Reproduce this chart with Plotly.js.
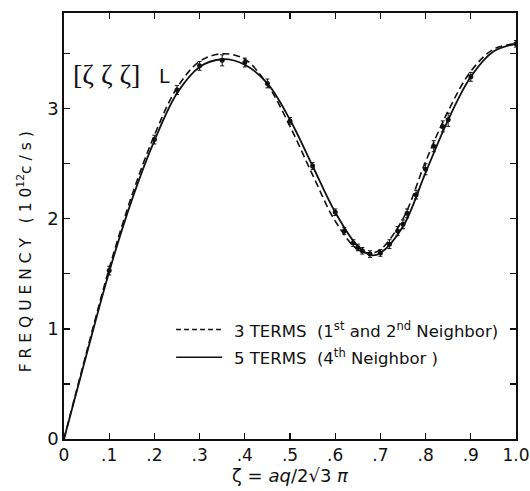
<!DOCTYPE html>
<html>
<head>
<meta charset="utf-8">
<script src="https://cdn.plot.ly/plotly-3.0.1.min.js"></script>
<style>html,body{margin:0;padding:0;background:#fff;}#plot{width:530px;height:491px;}</style>
</head>
<body>
<div id="plot"></div>
<script>
// Measured points (zeta, frequency in 10^12 c/s) with error bars
var zetaData = [0.10, 0.20, 0.25, 0.30, 0.35, 0.40, 0.45, 0.50, 0.55, 0.60, 0.62, 0.64, 0.65, 0.66, 0.677, 0.70, 0.72, 0.738, 0.75, 0.759, 0.779, 0.80, 0.818, 0.838, 0.85, 0.90, 1.00];
var freqData = [1.53, 2.72, 3.17, 3.39, 3.44, 3.42, 3.23, 2.89, 2.48, 2.06, 1.89, 1.78, 1.74, 1.71, 1.68, 1.69, 1.77, 1.89, 1.95, 2.05, 2.22, 2.45, 2.66, 2.84, 2.90, 3.29, 3.59];
var errData  = [0.04, 0.04, 0.04, 0.04, 0.05, 0.04, 0.04, 0.03, 0.03, 0.03, 0.03, 0.03, 0.03, 0.03, 0.03, 0.03, 0.04, 0.04, 0.04, 0.04, 0.04, 0.05, 0.05, 0.05, 0.06, 0.04, 0.03];

// Fitted curves
var zetaCurve   = [0, 0.05, 0.10, 0.15, 0.20, 0.25, 0.30, 0.35, 0.40, 0.45, 0.50, 0.55, 0.60, 0.65, 0.68, 0.70, 0.75, 0.80, 0.85, 0.90, 0.95, 1.00];
var freq5Terms  = [0, 0.77, 1.52, 2.17, 2.71, 3.14, 3.38, 3.45, 3.40, 3.23, 2.90, 2.48, 2.06, 1.75, 1.67, 1.69, 1.93, 2.42, 2.90, 3.29, 3.52, 3.59];
var freq3Terms  = [0, 0.79, 1.55, 2.21, 2.76, 3.19, 3.43, 3.50, 3.45, 3.22, 2.84, 2.40, 1.98, 1.72, 1.69, 1.72, 2.00, 2.52, 2.98, 3.34, 3.54, 3.59];

var xTickVals = [0, 0.1, 0.2, 0.3, 0.4, 0.5, 0.6, 0.7, 0.8, 0.9, 1.0];
var xTickText = ["0", ".1", ".2", ".3", ".4", ".5", ".6", ".7", ".8", ".9", "1.0"];
var yTickVals = [0, 1, 2, 3];
var yTickText = ["0", "1", "2", "3"];

var legendLabels = ["3 TERMS&nbsp; (1<sup>st</sup> and 2<sup>nd</sup> Neighbor)", "5 TERMS&nbsp; (4<sup>th</sup> Neighbor )"];

var fontFam = "DejaVu Sans, sans-serif";

var traces = [
  {x: zetaCurve, y: freq3Terms, mode: 'lines', line: {color: '#111', width: 1.6, dash: '7px,4px', shape: 'spline', smoothing: 1}, showlegend: false, hoverinfo: 'skip'},
  {x: zetaCurve, y: freq5Terms, mode: 'lines', line: {color: '#111', width: 1.8, shape: 'spline', smoothing: 1}, showlegend: false, hoverinfo: 'skip'},
  {x: zetaData, y: freqData, mode: 'markers', marker: {color: '#111', size: 5},
   error_y: {type: 'data', array: errData, visible: true, color: '#111', thickness: 1, width: 2}, showlegend: false}
];

var layout = {
  width: 530, height: 491,
  margin: {l: 64, r: 14, t: 13, b: 52},
  paper_bgcolor: '#fff', plot_bgcolor: '#fff',
  font: {family: fontFam, color: '#111', size: 15},
  xaxis: {
    range: [0, 1], tickvals: xTickVals, ticktext: xTickText,
    ticks: 'inside', ticklen: 6, tickwidth: 1.2, tickcolor: '#111',
    showline: true, linecolor: '#111', linewidth: 1.8, mirror: 'ticks',
    showgrid: false, zeroline: false,
    tickfont: {size: 17, family: fontFam},
    title: {text: 'ζ = <i>aq</i>/2√3 <i>π</i>', font: {size: 18, family: fontFam}, standoff: 4}
  },
  yaxis: {
    range: [0, 3.87], tickvals: yTickVals, ticktext: yTickText,
    ticks: 'inside', ticklen: 6, tickwidth: 1.2, tickcolor: '#111',
    minor: {dtick: 0.5, ticks: 'inside', ticklen: 6, tickwidth: 1.2, tickcolor: '#111', showgrid: false},
    showline: true, linecolor: '#111', linewidth: 1.8, mirror: 'ticks',
    showgrid: false, zeroline: false,
    tickfont: {size: 18, family: fontFam}
  },
  shapes: [
    {type: 'line', xref: 'paper', yref: 'paper', x0: 0.248, x1: 0.35, y0: 0.257, y1: 0.257, line: {color: '#111', width: 1.4, dash: '5px,3px'}},
    {type: 'line', xref: 'paper', yref: 'paper', x0: 0.248, x1: 0.35, y0: 0.192, y1: 0.192, line: {color: '#111', width: 1.6}}
  ],
  annotations: [
    {xref: 'paper', yref: 'paper', x: 0.372, y: 0.257, xanchor: 'left', yanchor: 'middle', text: legendLabels[0], showarrow: false, font: {size: 16.5, family: fontFam}},
    {xref: 'paper', yref: 'paper', x: 0.372, y: 0.192, xanchor: 'left', yanchor: 'middle', text: legendLabels[1], showarrow: false, font: {size: 16.5, family: fontFam}},
    {xref: 'paper', yref: 'paper', x: 0.015, y: 0.855, xanchor: 'left', yanchor: 'middle', text: '[ζ ζ ζ]', showarrow: false, font: {size: 28, family: 'Liberation Serif, serif'}},
    {xref: 'paper', yref: 'paper', x: 0.205, y: 0.853, xanchor: 'left', yanchor: 'middle', text: 'L', showarrow: false, font: {size: 19, family: fontFam}},
    {xref: 'paper', yref: 'paper', x: -0.087, y: 0.44, xanchor: 'center', yanchor: 'middle', textangle: -90, text: 'F R E Q U E N C Y&nbsp;&nbsp; ( 1 0<sup>12</sup>c / s )', showarrow: false, font: {size: 15.5, family: fontFam}}
  ]
};

Plotly.newPlot('plot', traces, layout, {displayModeBar: false, staticPlot: true});
</script>
</body>
</html>
